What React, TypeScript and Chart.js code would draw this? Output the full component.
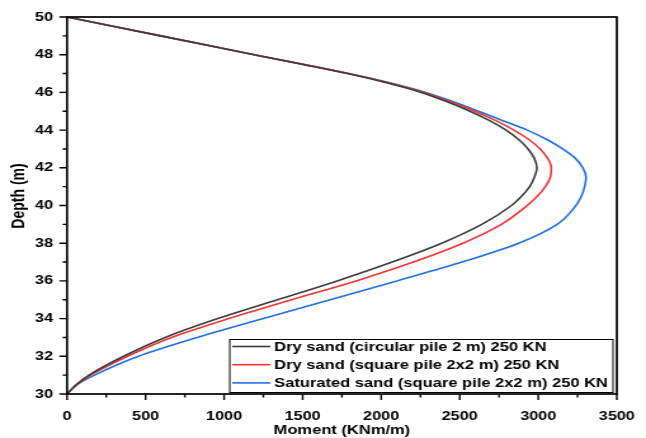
import React, { useEffect, useRef } from 'react';
import { Chart, registerables } from 'chart.js';

Chart.register(...registerables);

// ---- data ----
const depth = [30, 30.5, 31, 32, 33, 34, 35, 36, 37, 38, 39, 40, 40.5, 41, 41.5, 42, 42.5, 43, 43.5, 44, 44.5, 45, 45.5, 46, 46.5, 47, 48, 49, 50];
const momentDryCircular = [0, 60, 140, 360, 625, 960, 1340, 1720, 2070, 2385, 2640, 2830, 2895, 2945, 2975, 2991, 2975, 2935, 2875, 2795, 2690, 2565, 2420, 2255, 2040, 1785, 1190, 595, 0];
const momentDrySquare = [0, 62, 150, 385, 665, 1030, 1430, 1840, 2205, 2520, 2765, 2930, 2995, 3045, 3077, 3083, 3060, 3012, 2940, 2845, 2730, 2595, 2440, 2270, 2050, 1790, 1192, 596, 0];
const momentSaturatedSquare = [0, 65, 175, 455, 830, 1250, 1675, 2100, 2515, 2875, 3120, 3240, 3275, 3295, 3304, 3284, 3236, 3155, 3055, 2930, 2775, 2620, 2460, 2285, 2060, 1795, 1195, 598, 0];

const seriesLabels = [
  'Dry sand (circular pile 2 m) 250 KN',
  'Dry sand (square pile 2x2 m) 250 KN',
  'Saturated sand (square pile 2x2 m) 250 KN',
];
const seriesColors = ['#3c3c3c', '#f23535', '#1f6fe3'];

const xMin = 0;
const xMax = 3500;
const xMajorStep = 500;
const xMinorStep = 250;
const yMin = 30;
const yMax = 50;
const yMajorStep = 2;
const yMinorStep = 1;
const xTitle = 'Moment (KNm/m)';
const yTitle = 'Depth (m)';

// The reference is horizontally stretched; render narrower and stretch.
const INNER_W = 509;
const H = 438;
const SX = 646 / INNER_W;

const FONT = '"Liberation Sans", Arial, sans-serif';

const framePlugin = {
  id: 'frameTicks',
  afterDraw(chart: any) {
    const { ctx, chartArea, scales } = chart;
    const { left, right, top, bottom } = chartArea;
    const xs = scales.x;
    const ys = scales.y;
    ctx.save();
    ctx.strokeStyle = '#000';
    ctx.lineWidth = 1.7;
    ctx.strokeRect(left, top, right - left, bottom - top);
    ctx.lineWidth = 1.4;
    ctx.beginPath();
    for (let v = xMin; v <= xMax + 1e-6; v += xMinorStep) {
      const px = xs.getPixelForValue(v);
      const len = Math.abs(v % xMajorStep) < 1e-6 ? 6 : 3.5;
      ctx.moveTo(px, bottom);
      ctx.lineTo(px, bottom + len);
    }
    for (let v = yMin; v <= yMax + 1e-6; v += yMinorStep) {
      const py = ys.getPixelForValue(v);
      const len = Math.abs((v - yMin) % yMajorStep) < 1e-6 ? 6 : 3.5;
      ctx.moveTo(left, py);
      ctx.lineTo(left - len, py);
    }
    ctx.stroke();

    // y axis title
    ctx.save();
    ctx.translate(15.4, 196);
    ctx.rotate(-Math.PI / 2);
    ctx.font = `bold 14px ${FONT}`;
    ctx.fillStyle = '#000';
    ctx.textAlign = 'center';
    ctx.textBaseline = 'middle';
    ctx.fillText(yTitle, 0, 0);
    ctx.restore();

    // legend box inside plot area (bottom-right)
    ctx.font = `bold 13px ${FONT}`;
    const textW = Math.max(...seriesLabels.map((t) => ctx.measureText(t).width));
    const lineLen = 30;
    const boxW = 2 + lineLen + 3 + textW + 4;
    const boxH = 53;
    const bx = right - 3 - boxW;
    const by = bottom - 1.5 - boxH;
    ctx.fillStyle = '#fff';
    ctx.fillRect(bx, by, boxW, boxH);
    ctx.lineWidth = 1;
    ctx.strokeStyle = '#000';
    ctx.strokeRect(bx, by, boxW, boxH);
    ctx.textBaseline = 'middle';
    ctx.textAlign = 'left';
    seriesLabels.forEach((label, i) => {
      const cy = by + 7 + i * 18.2;
      ctx.strokeStyle = seriesColors[i];
      ctx.lineWidth = 1.6;
      ctx.beginPath();
      ctx.moveTo(bx + 2, cy);
      ctx.lineTo(bx + 2 + lineLen, cy);
      ctx.stroke();
      ctx.fillStyle = '#000';
      ctx.fillText(label, bx + 2 + lineLen + 3, cy + 0.5);
    });
    ctx.restore();
  },
};

export default function App() {
  const canvasRef = useRef<HTMLCanvasElement | null>(null);

  useEffect(() => {
    document.body.style.margin = '0';
    const canvas = canvasRef.current;
    if (!canvas) return;
    const seriesValues = [momentDryCircular, momentDrySquare, momentSaturatedSquare];
    const chart = new Chart(canvas, {
      type: 'line',
      data: {
        datasets: seriesValues.map((vals, i) => ({
          label: seriesLabels[i],
          data: depth.map((d, j) => ({ x: vals[j], y: d })),
          borderColor: seriesColors[i],
          backgroundColor: seriesColors[i],
          borderWidth: 1.6,
          pointRadius: 0,
          fill: false,
          cubicInterpolationMode: 'monotone',
        })),
      },
      options: {
        indexAxis: 'y',
        responsive: false,
        maintainAspectRatio: false,
        devicePixelRatio: 1,
        animation: false,
        layout: { padding: { top: 17, right: 23, left: 0, bottom: 0 } },
        plugins: {
          legend: { display: false },
          tooltip: { enabled: false },
        },
        scales: {
          x: {
            type: 'linear',
            min: xMin,
            max: xMax,
            grid: { display: false, drawTicks: false },
            border: { display: false },
            ticks: {
              stepSize: xMajorStep,
              color: '#000',
              padding: 15,
              maxRotation: 0,
              callback: (v: any) => String(v),
              font: { family: FONT, size: 12.8, weight: 'bold' },
            },
            title: {
              display: true,
              text: xTitle,
              color: '#000',
              font: { family: FONT, size: 13, weight: 'bold' },
              padding: { top: 0, bottom: 0 },
            },
            afterFit: (s: any) => {
              s.height = 44;
              s.paddingLeft = 0;
              s.paddingRight = 0;
            },
          },
          y: {
            type: 'linear',
            min: yMin,
            max: yMax,
            grid: { display: false, drawTicks: false },
            border: { display: false },
            ticks: {
              stepSize: yMajorStep,
              color: '#000',
              padding: 11,
              callback: (v: any) => String(v),
              font: { family: FONT, size: 12.8, weight: 'bold' },
            },
            title: { display: false },
            afterFit: (s: any) => {
              s.width = 52.8;
              s.paddingTop = 0;
              s.paddingBottom = 0;
            },
          },
        },
      } as any,
      plugins: [framePlugin],
    });
    return () => chart.destroy();
  }, []);

  return (
    <div style={{ width: INNER_W, height: H, transform: `scaleX(${SX})`, transformOrigin: '0 0' }}>
      <canvas ref={canvasRef} width={INNER_W} height={H} style={{ display: 'block' }} />
    </div>
  );
}
